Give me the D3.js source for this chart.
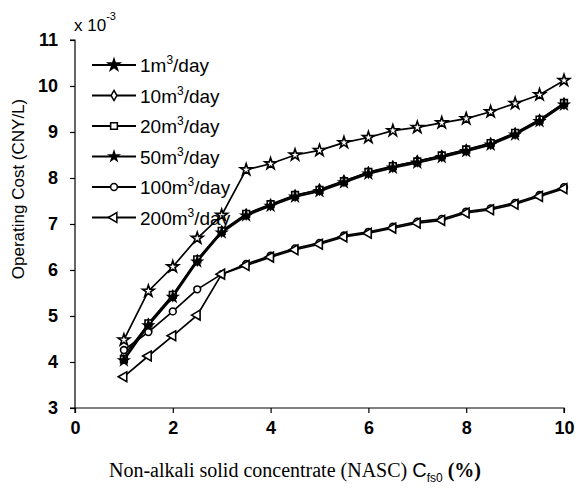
<!DOCTYPE html>
<html lang="en">
<head>
<meta charset="UTF-8">
<title>Operating cost vs NASC</title>
<script src="https://d3js.org/d3.v7.min.js"></script>
<style>
  body { margin: 0; background: #fff; }
  text { fill: #000; }
</style>
</head>
<body>
<script>
    // concentration values (%)
    const xValues = [1, 1.5, 2, 2.5, 3, 3.5, 4, 4.5, 5, 5.5, 6, 6.5, 7, 7.5, 8, 8.5, 9, 9.5, 10];

    // operating cost, x 10^-3 CNY/L
    const cost1 = [4.48, 5.54, 6.07, 6.69, 7.19, 8.18, 8.31, 8.50, 8.60, 8.77, 8.88, 9.03, 9.10, 9.20, 9.29, 9.44, 9.62, 9.81, 10.12];
    const cost10 = [4.14, 4.82, 5.44, 6.21, 6.84, 7.21, 7.42, 7.62, 7.75, 7.94, 8.12, 8.25, 8.37, 8.48, 8.61, 8.75, 8.97, 9.26, 9.62];
    const cost20 = [4.06, 4.84, 5.46, 6.23, 6.85, 7.22, 7.43, 7.63, 7.74, 7.93, 8.13, 8.26, 8.36, 8.49, 8.62, 8.76, 8.98, 9.27, 9.63];
    const cost50 = [4.03, 4.79, 5.41, 6.18, 6.81, 7.18, 7.39, 7.59, 7.71, 7.90, 8.09, 8.22, 8.33, 8.45, 8.58, 8.72, 8.94, 9.23, 9.59];
    const cost100 = [4.26, 4.65, 5.10, 5.58, 5.91, 6.13, 6.31, 6.47, 6.59, 6.75, 6.83, 6.94, 7.05, 7.11, 7.27, 7.34, 7.46, 7.63, 7.80];
    const cost200 = [3.68, 4.13, 4.57, 5.02, 5.91, 6.10, 6.28, 6.44, 6.56, 6.72, 6.80, 6.91, 7.02, 7.08, 7.24, 7.31, 7.43, 7.60, 7.77];

    const seriesNames = ["1", "10", "20", "50", "100", "200"];
    const xTicks = [0, 2, 4, 6, 8, 10];
    const yTicks = [3, 4, 5, 6, 7, 8, 9, 10, 11];

    const series = [
        { name: seriesNames[0], values: cost1, symbol: d3.symbolStar, size: 42, fill: "#fff" },
        { name: seriesNames[1], values: cost10, symbol: d3.symbolDiamond, size: 30, fill: "#fff" },
        { name: seriesNames[2], values: cost20, symbol: d3.symbolSquare, size: 45, fill: "#fff" },
        { name: seriesNames[3], values: cost50, symbol: d3.symbolStar, size: 28, fill: "#000" },
        { name: seriesNames[4], values: cost100, symbol: d3.symbolCircle, size: 36, fill: "#fff" },
        { name: seriesNames[5], values: cost200, symbol: d3.symbolTriangle, size: 42, fill: "#fff", rotate: -90 }
    ];

    const W = 576, H = 491;
    const svg = d3.select("body").append("svg")
        .attr("width", W)
        .attr("height", H);

    const x = d3.scaleLinear().domain([0, 10]).range([75, 564]);
    const y = d3.scaleLinear().domain([3, 11]).range([408, 40]);

    const sans = "'Liberation Sans', Arial, sans-serif";
    const serif = "'Liberation Serif', 'Times New Roman', serif";

    // axes
    const xAxis = svg.append("g")
        .attr("transform", "translate(0,408)")
        .call(d3.axisBottom(x).tickValues(xTicks).tickSize(5).tickPadding(8));
    const yAxis = svg.append("g")
        .attr("transform", "translate(75,0)")
        .call(d3.axisLeft(y).tickValues(yTicks).tickSize(5).tickPadding(12));

    [xAxis, yAxis].forEach(g => {
        g.select(".domain").attr("stroke", "#000").attr("stroke-width", 1.2);
        g.selectAll(".tick line").attr("stroke", "#000").attr("stroke-width", 1.2);
        g.selectAll(".tick text")
            .attr("font-family", sans)
            .attr("font-size", 18)
            .attr("font-weight", "bold")
            .attr("fill", "#000");
    });
    xAxis.select(".domain").attr("d", "M75,5V0H564V5");
    yAxis.select(".domain").attr("d", "M-5,40H0V408H-5");

    // lines and markers
    const line = d3.line()
        .x((d, i) => x(xValues[i]))
        .y(d => y(d));

    function marker(s) {
        return d3.symbol().type(s.symbol).size(s.size)();
    }

    series.forEach(s => {
        const g = svg.append("g");
        g.append("path")
            .attr("d", line(s.values))
            .attr("fill", "none")
            .attr("stroke", "#000")
            .attr("stroke-width", 1.7);
        g.selectAll("path.m")
            .data(s.values)
            .enter().append("path")
            .attr("class", "m")
            .attr("d", marker(s))
            .attr("transform", (d, i) => `translate(${x(xValues[i])},${y(d)}) rotate(${s.rotate || 0})`)
            .attr("fill", s.fill)
            .attr("stroke", "#000")
            .attr("stroke-width", 1.6);
    });

    // legend
    const legend = svg.append("g");
    series.forEach((s, i) => {
        const ly = 65 + i * 30.5;
        legend.append("line")
            .attr("x1", 92).attr("x2", 136)
            .attr("y1", ly).attr("y2", ly)
            .attr("stroke", "#000")
            .attr("stroke-width", 2);
        legend.append("path")
            .attr("d", marker(s))
            .attr("transform", `translate(114,${ly}) rotate(${s.rotate || 0})`)
            .attr("fill", i === 0 ? "#000" : s.fill)
            .attr("stroke", "#000")
            .attr("stroke-width", 1.5);
        const t = legend.append("text")
            .attr("x", 140)
            .attr("y", ly + 7)
            .attr("font-family", sans)
            .attr("font-size", 19);
        t.append("tspan").text(s.name + "m");
        t.append("tspan").attr("dy", -8).attr("font-size", 12).text("3");
        t.append("tspan").attr("dy", 8).text("/day");
    });

    // exponent note
    const expo = svg.append("text")
        .attr("x", 74)
        .attr("y", 31)
        .attr("font-family", sans)
        .attr("font-size", 17);
    expo.append("tspan").text("x 10");
    expo.append("tspan").attr("dy", -11).attr("font-size", 11).text("-3");

    // y title
    svg.append("text")
        .attr("transform", "translate(24,189) rotate(-90)")
        .attr("text-anchor", "middle")
        .attr("font-family", sans)
        .attr("font-size", 17)
        .text("Operating Cost (CNY/L)");

    // x title
    const xt = svg.append("text")
        .attr("x", 295)
        .attr("y", 477)
        .attr("text-anchor", "middle")
        .attr("font-size", 20);
    xt.append("tspan").attr("font-family", serif).text("Non-alkali solid concentrate (NASC) ");
    xt.append("tspan").attr("font-family", sans).text("C");
    xt.append("tspan").attr("font-family", sans).attr("font-size", 12).attr("dy", 5).text("fs0");
    xt.append("tspan").attr("font-family", serif).attr("font-weight", "bold").attr("dy", -5).text(" (%)");
</script>
</body>
</html>
